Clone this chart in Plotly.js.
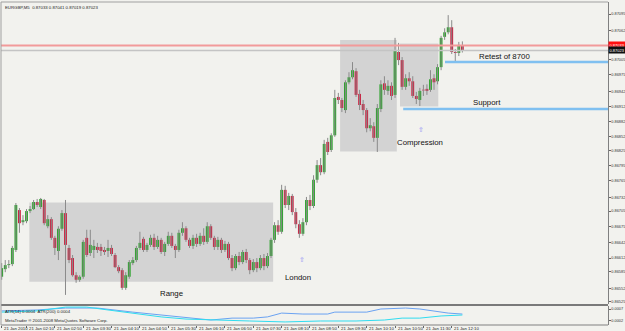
<!DOCTYPE html>
<html><head><meta charset="utf-8">
<script src="https://cdn.plot.ly/plotly-3.0.1.min.js"></script>
<style>html,body{margin:0;padding:0;background:#f2f2ee;}#chart{width:625px;height:331px;}</style>
</head><body><div id="chart"></div>
<script>
// EURGBP M5, 21 Jan 2010, bars from 01:35
const openP = [
0.86575,0.86590,0.86598,0.86600,0.86628,0.86707,0.86683,0.86685,0.86705,0.86709,
0.86723,0.86713,0.86727,0.86675,0.86689,0.86652,0.86626,0.86670,0.86701,0.86632,
0.86612,0.86578,0.86569,0.86575,0.86652,0.86622,0.86628,0.86634,0.86634,0.86628,
0.86626,0.86632,0.86618,0.86594,0.86588,0.86553,0.86575,0.86602,0.86608,0.86632,
0.86650,0.86628,0.86638,0.86652,0.86634,0.86648,0.86624,0.86640,0.86656,0.86636,
0.86628,0.86662,0.86671,0.86648,0.86636,0.86652,0.86640,0.86656,0.86644,0.86675,
0.86652,0.86634,0.86648,0.86628,0.86640,0.86612,0.86592,0.86616,0.86604,0.86624,
0.86608,0.86588,0.86604,0.86592,0.86612,0.86596,0.86616,0.86648,0.86677,0.86664,
0.86747,0.86717,0.86735,0.86703,0.86679,0.86660,0.86683,0.86727,0.86715,0.86767,
0.86796,0.86782,0.86842,0.86826,0.86855,0.86931,0.86925,0.86905,0.86960,0.86970,
0.86982,0.86937,0.86917,0.86905,0.86869,0.86873,0.86850,0.86907,0.86958,0.86943,
0.86953,0.86935,0.87020,0.87004,0.86951,0.86968,0.86962,0.86933,0.86925,0.86945,
0.86947,0.86945,0.86968,0.86962,0.86990,0.87050,0.87059,0.87069,0.87020,0.87018,
0.87033];
const highP = [
0.86602,0.86608,0.86608,0.86636,0.86721,0.86711,0.86697,0.86709,0.86715,0.86727,
0.86729,0.86731,0.86729,0.86697,0.86693,0.86656,0.86675,0.86707,0.86727,0.86638,
0.86618,0.86584,0.86578,0.86648,0.86668,0.86668,0.86648,0.86642,0.86640,0.86634,
0.86648,0.86638,0.86622,0.86598,0.86592,0.86584,0.86608,0.86614,0.86636,0.86664,
0.86654,0.86642,0.86658,0.86660,0.86656,0.86652,0.86644,0.86664,0.86662,0.86640,
0.86668,0.86683,0.86675,0.86652,0.86658,0.86660,0.86662,0.86671,0.86683,0.86679,
0.86656,0.86654,0.86652,0.86646,0.86644,0.86618,0.86620,0.86624,0.86628,0.86630,
0.86612,0.86610,0.86612,0.86618,0.86620,0.86622,0.86652,0.86683,0.86687,0.86757,
0.86755,0.86741,0.86739,0.86711,0.86687,0.86691,0.86733,0.86737,0.86776,0.86806,
0.86810,0.86846,0.86850,0.86859,0.86945,0.86939,0.86929,0.86964,0.86980,0.87000,
0.86988,0.86945,0.86925,0.86909,0.86889,0.86881,0.86917,0.86964,0.86972,0.86964,
0.86960,0.87048,0.87038,0.87010,0.86976,0.86980,0.86972,0.86941,0.86949,0.86955,
0.86956,0.86984,0.86976,0.86996,0.87052,0.87067,0.87093,0.87083,0.87026,0.87040,
0.87041];
const lowP = [
0.86569,0.86584,0.86592,0.86596,0.86624,0.86662,0.86677,0.86681,0.86701,0.86707,
0.86713,0.86709,0.86677,0.86671,0.86648,0.86618,0.86608,0.86666,0.86539,0.86602,
0.86575,0.86563,0.86565,0.86571,0.86614,0.86616,0.86612,0.86622,0.86616,0.86618,
0.86614,0.86616,0.86592,0.86582,0.86549,0.86549,0.86571,0.86598,0.86604,0.86628,
0.86624,0.86624,0.86634,0.86628,0.86630,0.86620,0.86616,0.86636,0.86632,0.86612,
0.86624,0.86656,0.86644,0.86632,0.86630,0.86634,0.86636,0.86638,0.86640,0.86648,
0.86628,0.86628,0.86622,0.86624,0.86608,0.86586,0.86588,0.86598,0.86600,0.86602,
0.86580,0.86584,0.86584,0.86588,0.86588,0.86592,0.86612,0.86642,0.86658,0.86660,
0.86711,0.86707,0.86697,0.86671,0.86652,0.86656,0.86677,0.86707,0.86711,0.86761,
0.86776,0.86778,0.86816,0.86822,0.86852,0.86917,0.86901,0.86899,0.86956,0.86966,
0.86931,0.86905,0.86895,0.86861,0.86863,0.86842,0.86822,0.86901,0.86935,0.86935,
0.86925,0.86929,0.86994,0.86945,0.86945,0.86953,0.86929,0.86917,0.86913,0.86933,
0.86935,0.86941,0.86945,0.86956,0.86984,0.87044,0.87055,0.87016,0.87000,0.87012,
0.87019];
const closeP = [
0.86592,0.86598,0.86600,0.86632,0.86717,0.86681,0.86687,0.86705,0.86709,0.86723,
0.86717,0.86729,0.86681,0.86689,0.86652,0.86632,0.86670,0.86701,0.86638,0.86608,
0.86578,0.86569,0.86575,0.86644,0.86618,0.86638,0.86636,0.86628,0.86626,0.86624,
0.86632,0.86620,0.86594,0.86586,0.86553,0.86578,0.86604,0.86608,0.86632,0.86642,
0.86628,0.86638,0.86652,0.86634,0.86648,0.86624,0.86640,0.86656,0.86636,0.86628,
0.86662,0.86671,0.86648,0.86636,0.86652,0.86640,0.86656,0.86644,0.86675,0.86652,
0.86634,0.86648,0.86628,0.86640,0.86612,0.86592,0.86616,0.86604,0.86624,0.86608,
0.86588,0.86604,0.86592,0.86612,0.86596,0.86616,0.86648,0.86677,0.86664,0.86747,
0.86717,0.86735,0.86703,0.86679,0.86660,0.86683,0.86727,0.86715,0.86767,0.86796,
0.86782,0.86838,0.86822,0.86855,0.86929,0.86925,0.86909,0.86960,0.86970,0.86984,
0.86935,0.86915,0.86905,0.86869,0.86875,0.86850,0.86909,0.86956,0.86945,0.86953,
0.86933,0.87024,0.87004,0.86951,0.86968,0.86962,0.86933,0.86927,0.86943,0.86944,
0.86943,0.86966,0.86960,0.86990,0.87048,0.87059,0.87069,0.87020,0.87018,0.87034,
0.87023];

const timeTickIdx = [0,7,15,23,31,39,47,55,63,71,79,87,95,103,111,119,127];
const timeTickText = ["21 Jan 2010","21 Jan 02:10","21 Jan 02:50","21 Jan 03:30","21 Jan 04:10",
  "21 Jan 04:50","21 Jan 05:30","21 Jan 06:10","21 Jan 06:50","21 Jan 07:30","21 Jan 08:10",
  "21 Jan 08:50","21 Jan 09:30","21 Jan 10:10","21 Jan 10:50","21 Jan 11:30","21 Jan 12:10"];
const priceTickText = ["0.86525","0.86552","0.86585","0.86612","0.86642","0.86675","0.86705",
  "0.86732","0.86765","0.86795","0.86825","0.86852","0.86882","0.86912","0.86942","0.86975",
  "0.87005","0.87035","0.87062","0.87095"];
const atrTickText = ["0.0007","0.0002"];

const atr14Idx = [0,10,18,27,37,45,52,59,65,71,75,79,85,92,94,103,107,114,118,122,126,130];
const atr14Val = [0.00062,0.00066,0.00074,0.00074,0.00057,0.00045,0.00037,0.00024,0.00032,0.00032,
  0.00037,0.00053,0.00049,0.00049,0.00057,0.00057,0.00070,0.00074,0.00070,0.00062,0.00053,0.00049];
const atr200Idx = [0,10,18,24,30,37,45,52,59,70,80,90,100,108,113,118,124,130];
const atr200Val = [0.00057,0.00062,0.00078,0.00078,0.00066,0.00053,0.00037,0.00028,0.00024,0.00020,
  0.00016,0.00020,0.00020,0.00024,0.00032,0.00032,0.00041,0.00045];

const askLevel = 0.87033, bidLevel = 0.87023;
const retestLevel = 0.87000, supportLevel = 0.86907;

const n = openP.length;
const idx = openP.map((_, i) => i);
const wx = [], wy = [];
for (let i = 0; i < n; i++) { wx.push(i, i, null); wy.push(highP[i], lowP[i], null); }
const bodyBase = idx.map(i => Math.min(openP[i], closeP[i]));
const bodyH = idx.map(i => Math.max(Math.abs(closeP[i] - openP[i]), 0.000013));
const bodyCol = idx.map(i => closeP[i] >= openP[i] ? '#2ca42c' : '#cc2040');

const traces = [
  {type:'scatter', mode:'lines', x:wx, y:wy, line:{color:'#8a8a8a', width:1}, hoverinfo:'skip', xaxis:'x', yaxis:'y'},
  {type:'bar', x:idx, y:bodyH, base:bodyBase, width:0.8, marker:{color:bodyCol, line:{width:0}}, xaxis:'x', yaxis:'y'},
  {type:'scatter', mode:'lines', x:atr14Idx, y:atr14Val, line:{color:'#6aa2f2', width:1}, xaxis:'x', yaxis:'y2'},
  {type:'scatter', mode:'lines', x:atr200Idx, y:atr200Val, line:{color:'#2fdcf0', width:1}, xaxis:'x', yaxis:'y2'}
];

const PH = 323; // plot height in px
const py = v => (325 - v) / PH; // pixel row -> paper y
const XR = [-0.2, 171.1];
const lbl = {family:'Liberation Sans, Arial, sans-serif', size:7.8, color:'#111'};
const tiny = {family:'Liberation Sans, Arial, sans-serif', size:4.3, color:'#222'};
const note = (x, y, text, font, xa) => ({xref:'paper', yref:'paper', x:x, y:y, xanchor:xa || 'center', yanchor:'middle', text:text, showarrow:false, font:font});
const arrowFont = {family:'DejaVu Sans', size:7, color:'#8f8ff5'};

const annotations = [
  note(0.003, py(8), 'EURGBP,M5  0.87033 0.87041 0.87019 0.87023', tiny, 'left'),
  note(0.2817, py(293), 'Range', lbl),
  note(0.4893, py(277), 'London', lbl),
  note(0.6903, py(142), 'Compression', lbl),
  note(0.8303, py(57), 'Retest of 8700', lbl),
  note(0.8007, py(103), 'Support', lbl),
  note(0.4959, py(260), '⇧', arrowFont),
  note(0.6919, py(130), '⇧', arrowFont),
  note(0.003, py(311), 'ATR(14) 0.0004  ATR(200) 0.0004', tiny, 'left'),
  note(0.003, py(320.5), 'MetaTrader ® 2001-2008 MetaQuotes Software Corp.', tiny, 'left'),
  {xref:'paper', yref:'y', x:1, y:askLevel, xanchor:'left', yanchor:'middle', text:askLevel.toFixed(5), showarrow:false, bgcolor:'#ff1010', borderpad:0.5, font:{family:'Liberation Sans, Arial', size:4, color:'#fff'}},
  {xref:'paper', yref:'y', x:1, y:bidLevel, xanchor:'left', yanchor:'middle', text:bidLevel.toFixed(5), showarrow:false, bgcolor:'#101010', borderpad:0.5, font:{family:'Liberation Sans, Arial', size:4, color:'#fff'}}
];
timeTickIdx.forEach((t, k) => annotations.push({xref:'x', yref:'paper', x:t, y:py(328), xanchor:'left', yanchor:'middle', xshift:0.5, text:timeTickText[k], showarrow:false, font:tiny}));

const shapes = [
  {type:'rect', xref:'x', yref:'y', x0:7.8, x1:76.6, y0:0.86565, y1:0.86722, fillcolor:'#d3d3d3', line:{width:0}, layer:'below'},
  {type:'rect', xref:'x', yref:'y', x0:95.5, x1:111.5, y0:0.86823, y1:0.87044, fillcolor:'#d3d3d3', line:{width:0}, layer:'below'},
  {type:'rect', xref:'x', yref:'y', x0:112.4, x1:123.2, y0:0.86912, y1:0.87037, fillcolor:'#d3d3d3', line:{width:0}, layer:'below'},
  {type:'line', xref:'paper', yref:'y', x0:0, x1:1, y0:askLevel, y1:askLevel, line:{color:'#f29a9a', width:2}},
  {type:'line', xref:'paper', yref:'y', x0:0, x1:1, y0:bidLevel, y1:bidLevel, line:{color:'#c4c4c4', width:1.5}},
  {type:'line', xref:'x', yref:'y', x0:125.1, x1:XR[1], y0:retestLevel, y1:retestLevel, line:{color:'#80c0f0', width:2.5}},
  {type:'line', xref:'x', yref:'y', x0:113.3, x1:XR[1], y0:supportLevel, y1:supportLevel, line:{color:'#80c0f0', width:2.5}},
  {type:'line', xref:'paper', yref:'paper', x0:0, x1:1, y0:py(305), y1:py(305), line:{color:'#7a7a7a', width:2}},
  {type:'line', xref:'paper', yref:'paper', x0:0, x1:1, y0:0, y1:0, line:{color:'#808080', width:1}},
  {type:'line', xref:'paper', yref:'paper', x0:0, x1:1, y0:1, y1:1, line:{color:'#a0a0a0', width:1}},
  {type:'line', xref:'paper', yref:'paper', x0:0, x1:0, y0:0, y1:1, line:{color:'#a0a0a0', width:1}}
];

// the tick label under the ask price box is hidden in the reference
const shownTickText = priceTickText.map(t => Math.abs(Number(t) - askLevel) < 0.00008 ? '' : t);

const axisFont = {family:'Liberation Sans, Arial, sans-serif', size:3.9, color:'#333'};
const layout = {
  width:625, height:331, margin:{l:1, r:17, t:2, b:6},
  paper_bgcolor:'#f2f2ee', plot_bgcolor:'#f2f2ee', showlegend:false, barmode:'overlay',
  font:{family:'Liberation Sans, Arial, sans-serif', size:4, color:'#222'},
  xaxis:{range:XR, anchor:'y2', showgrid:false, zeroline:false, tickvals:timeTickIdx, ticktext:timeTickIdx.map(() => ''),
    ticks:'outside', ticklen:2, tickcolor:'#666', showline:false, fixedrange:true},
  yaxis:{domain:[py(304), 1], range:[0.86521, 0.87119], side:'right', anchor:'x',
    tickvals:priceTickText.map(Number), ticktext:shownTickText, ticks:'outside', ticklen:1.5, tickcolor:'#666',
    ticklabelstandoff:0, tickfont:axisFont, showgrid:false, zeroline:false, showline:true, linecolor:'#808080', linewidth:1},
  yaxis2:{domain:[0, py(306)], range:[0.000033, 0.000825], side:'right', anchor:'x',
    tickvals:atrTickText.map(Number), ticktext:atrTickText, ticks:'outside', ticklen:1.5, tickcolor:'#666',
    ticklabelstandoff:0, tickfont:axisFont, showgrid:false, zeroline:false, showline:true, linecolor:'#808080', linewidth:1},
  shapes:shapes, annotations:annotations
};
Plotly.newPlot('chart', traces, layout, {staticPlot:true, displayModeBar:false});
</script></body></html>
